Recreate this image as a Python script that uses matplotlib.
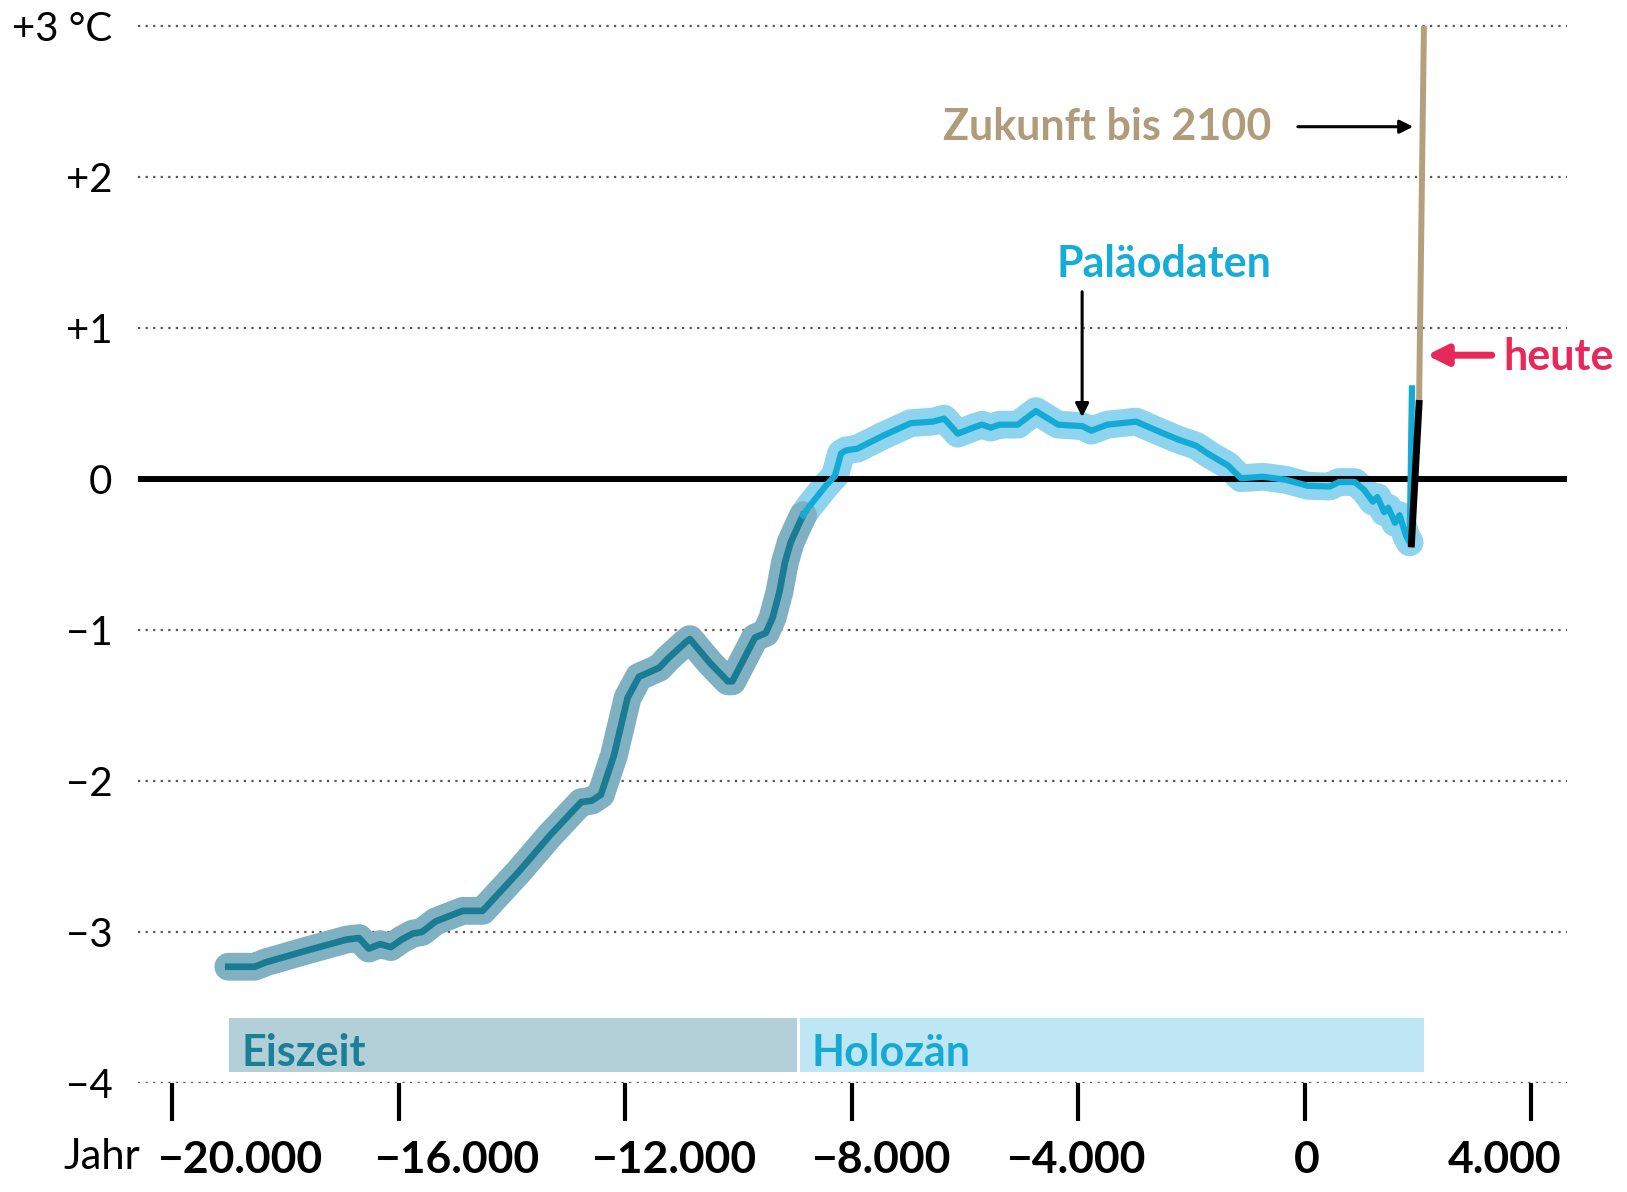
import matplotlib
matplotlib.use("Agg")
import matplotlib.pyplot as plt

# paleo reconstruction, glacial part (year, deg C relative to reference)
glacial_year = [-19010, -18540, -18340, -17600, -16920, -16700, -16530, -16330, -16140,
                -15950, -15750, -15590, -15350, -14870, -14520, -13880, -13330, -12780,
                -12590, -12430, -12200, -11960, -11760, -11400, -11250, -10930, -10860,
                -10500, -10190, -10110, -9710, -9520, -9400, -9280, -9180, -9080, -8960, -8860]
glacial_temp = [-3.23, -3.23, -3.20, -3.12, -3.05, -3.04, -3.11, -3.08, -3.10,
                -3.05, -3.01, -3.00, -2.93, -2.86, -2.86, -2.60, -2.36, -2.14,
                -2.13, -2.09, -1.83, -1.45, -1.31, -1.25, -1.19, -1.08, -1.06,
                -1.22, -1.34, -1.34, -1.05, -1.02, -0.92, -0.75, -0.55, -0.42, -0.32, -0.24]

# paleo reconstruction, holocene part
holocene_year = [-8860, -8770, -8620, -8450, -8300, -8190, -8100, -7910, -7430, -6960,
                 -6570, -6370, -6130, -5860, -5700, -5550, -5390, -5070, -4750, -4360,
                 -3930, -3770, -3490, -2980, -2550, -2230, -1920, -1680, -1360, -1130,
                 -740, -340, 50, 440, 600, 880, 1040, 1200, 1280, 1400, 1470, 1590,
                 1670, 1790, 1850]
holocene_temp = [-0.24, -0.19, -0.12, -0.04, 0.02, 0.17, 0.19, 0.20, 0.29, 0.37,
                 0.38, 0.40, 0.30, 0.34, 0.36, 0.34, 0.36, 0.36, 0.45, 0.36,
                 0.35, 0.32, 0.36, 0.38, 0.31, 0.26, 0.22, 0.16, 0.09, 0.005,
                 0.015, -0.005, -0.045, -0.05, -0.02, -0.02, -0.07, -0.15, -0.12, -0.22, -0.19, -0.29,
                 -0.24, -0.38, -0.42]

spike_year = [1850, 1890]
spike_temp = [-0.42, 0.60]
instr_year = [1880, 2015]
instr_temp = [-0.43, 0.50]
future_year = [2015, 2100]
future_temp = [0.50, 2.98]

y_ticks = [-4, -3, -2, -1, 0, 1, 2, 3]
y_labels = ["\u22124", "\u22123", "\u22122", "\u22121", "0", "+1", "+2", "+3 \u00b0C"]
x_ticks = [-20000, -16000, -12000, -8000, -4000, 0, 4000]
x_labels = ["\u221220.000", "\u221216.000", "\u221212.000", "\u22128.000", "\u22124.000", "0", "4.000"]
x_label_pos = [-18790, -14960, -11130, -7470, -4025, 25, 3525]

periods = ["Eiszeit", "Holozän"]
period_start = [-19000, -8920]
period_end = [-8975, 2110]
period_fill = ["#b3cfd8", "#bee6f4"]
period_text = ["#1b7f95", "#16a9d4"]

FAMILY = ["Lato", "DejaVu Sans"]
label_font = dict(family=FAMILY, fontweight="bold", fontsize=31)

fig = plt.figure(figsize=(16.27, 11.92), dpi=100)
ax = fig.add_axes([0.08482, 0.09144, 0.87830, 0.90575])
ax.set_xlim(-20604, 4627)
ax.set_ylim(-4, 3.15)
for s in ax.spines.values():
    s.set_visible(False)

ax.set_yticks(y_ticks)
ax.set_yticklabels(y_labels, family=FAMILY, fontsize=29)
ax.tick_params(axis="y", length=0, pad=18.5)
ax.set_xticks(x_ticks)
ax.set_xticklabels([])
ax.tick_params(axis="x", length=27, width=3, direction="out", color="black")
ax.grid(axis="y", color="#555555", linewidth=1.6, linestyle=(0, (1, 2.4)), zorder=0)
ax.set_axisbelow(True)
ax.axhline(0, color="black", linewidth=4.3, zorder=3)

for lab, xp in zip(x_labels, x_label_pos):
    ax.text(xp, -4.51, lab, ha="center", va="center", family=FAMILY,
            fontweight="bold", fontsize=32, clip_on=False)
ax.text(-20570, -4.49, "Jahr", ha="right", va="center", family=FAMILY,
        fontsize=30, clip_on=False)

# period bands
for name, x0, x1, fc, tc in zip(periods, period_start, period_end, period_fill, period_text):
    ax.barh(-3.75, x1 - x0, left=x0, height=0.36, color=fc, zorder=1)
    ax.text(x0 + 215, -3.885, name, ha="left", va="baseline", color=tc, **label_font, zorder=2)

# paleo curve: halo + core
ax.plot(holocene_year, holocene_temp, color="#8ed4ee", linewidth=20,
        solid_capstyle="round", solid_joinstyle="round", zorder=2)
ax.plot(glacial_year, glacial_temp, color="#80b1c2", linewidth=20,
        solid_capstyle="round", solid_joinstyle="round", zorder=2)
ax.plot(glacial_year, glacial_temp, color="#197c92", linewidth=4.8,
        solid_joinstyle="round", zorder=4)
ax.plot(holocene_year + spike_year[1:], holocene_temp + spike_temp[1:], color="#14aad6",
        linewidth=4.5, solid_joinstyle="round", zorder=4)

ax.plot(future_year, future_temp, color="#b5a07e", linewidth=4.3, zorder=5)
ax.plot(instr_year, instr_temp, color="black", linewidth=5, zorder=6)

# annotations
ax.text(-585, 2.245, "Zukunft bis 2100", ha="right", va="baseline", color="#b09b7b", **label_font)
ax.annotate("", xy=(1911, 2.333), xytext=(-125, 2.333),
            arrowprops=dict(arrowstyle="-|>", color="black", lw=2.2, mutation_scale=20,
                            shrinkA=0, shrinkB=0))
ax.text(-585, 1.34, "Paläodaten", ha="right", va="baseline", color="#16acd8", **label_font)
ax.annotate("", xy=(-3934, 0.41), xytext=(-3934, 1.24),
            arrowprops=dict(arrowstyle="-|>", color="black", lw=2.2, mutation_scale=20,
                            shrinkA=0, shrinkB=0))
ax.text(3496, 0.72, "heute", ha="left", va="baseline", color="#e8285a", clip_on=False, **label_font)
ax.annotate("", xy=(2152, 0.82), xytext=(3299, 0.82),
            arrowprops=dict(arrowstyle="-|>", color="#e8285a", lw=5, mutation_scale=30,
                            shrinkA=0, shrinkB=0), annotation_clip=False)

fig.savefig("out.png", dpi=100)
